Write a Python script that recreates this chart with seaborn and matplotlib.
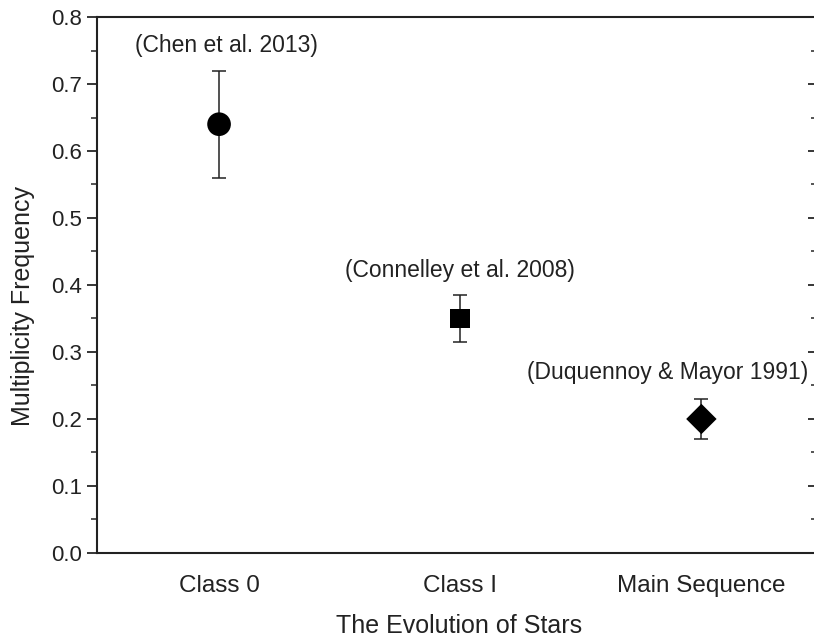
import matplotlib
matplotlib.use("Agg")
import matplotlib.pyplot as plt
from matplotlib.ticker import MultipleLocator
import pandas as pd
import seaborn as sns

stages = ["Class 0", "Class I", "Main Sequence"]
frequency = [0.64, 0.35, 0.20]
err_up = [0.08, 0.035, 0.03]
err_down = [0.08, 0.035, 0.03]
references = ["(Chen et al. 2013)", "(Connelley et al. 2008)", "(Duquennoy & Mayor 1991)"]
label_y = [0.758, 0.422, 0.269]
label_dx = [0.03, 0.0, -0.139]

df = pd.DataFrame({"stage": stages, "freq": frequency, "ref": references})

sns.set_style("ticks")
plt.rcParams["font.family"] = ["Liberation Sans", "DejaVu Sans"]

fig = plt.figure(figsize=(8.14, 6.37), dpi=100)
ax = fig.add_axes([0.1192, 0.1319, 0.8906, 0.8414])

pos = list(range(len(stages)))
ax.errorbar(pos, frequency, yerr=[err_down, err_up], fmt="none",
            ecolor="#222222", elinewidth=1.1, capsize=5, capthick=1.1, zorder=2)
sns.scatterplot(data=df, x="stage", y="freq", style="stage",
                markers={"Class 0": "o", "Class I": "s", "Main Sequence": "D"},
                size="stage", sizes={"Class 0": 290, "Class I": 200, "Main Sequence": 240},
                color="black", edgecolor="black", linewidth=0, legend=False,
                ax=ax, zorder=3)

for i, (ref, ly, dx) in enumerate(zip(references, label_y, label_dx)):
    ax.text(i + dx, ly, ref, ha="center", va="center", fontsize=16.5, color="#222222")

ax.set_xlim(-0.506, 2.5)
ax.set_ylim(0, 0.8)
ax.yaxis.set_major_locator(MultipleLocator(0.1))
ax.yaxis.set_minor_locator(MultipleLocator(0.05))
ax.yaxis.set_major_formatter(plt.FuncFormatter(lambda v, p: f"{v:.1f}"))
ax.set_xticks(pos)
ax.set_xticklabels(stages)

ax.tick_params(axis="y", which="major", direction="out", length=7, width=1.3,
               labelsize=16, labelcolor="#222222", right=True)
ax.tick_params(axis="y", which="minor", direction="out", length=4, width=1.1, right=True)
ax.tick_params(axis="x", length=0, labelsize=17.5, labelcolor="#222222", pad=16)
ax.yaxis.set_tick_params(which="both", labelright=False)
for t in ax.yaxis.get_major_ticks():
    t.tick2line.set_marker(matplotlib.lines.TICKLEFT)
    t.tick2line.set_markersize(10)
for t in ax.yaxis.get_minor_ticks():
    t.tick2line.set_marker(matplotlib.lines.TICKLEFT)
    t.tick2line.set_markersize(8)
    t.tick2line.set_color("#cccccc")

for s in ax.spines.values():
    s.set_linewidth(1.5)
    s.set_color("#222222")

ax.set_xlabel("The Evolution of Stars", fontsize=18, color="#222222", labelpad=12)
ax.set_ylabel("Multiplicity Frequency", fontsize=18, color="#222222")
ax.yaxis.set_label_coords(-0.0855, 0.461)

fig.savefig("out.png", dpi=100)
